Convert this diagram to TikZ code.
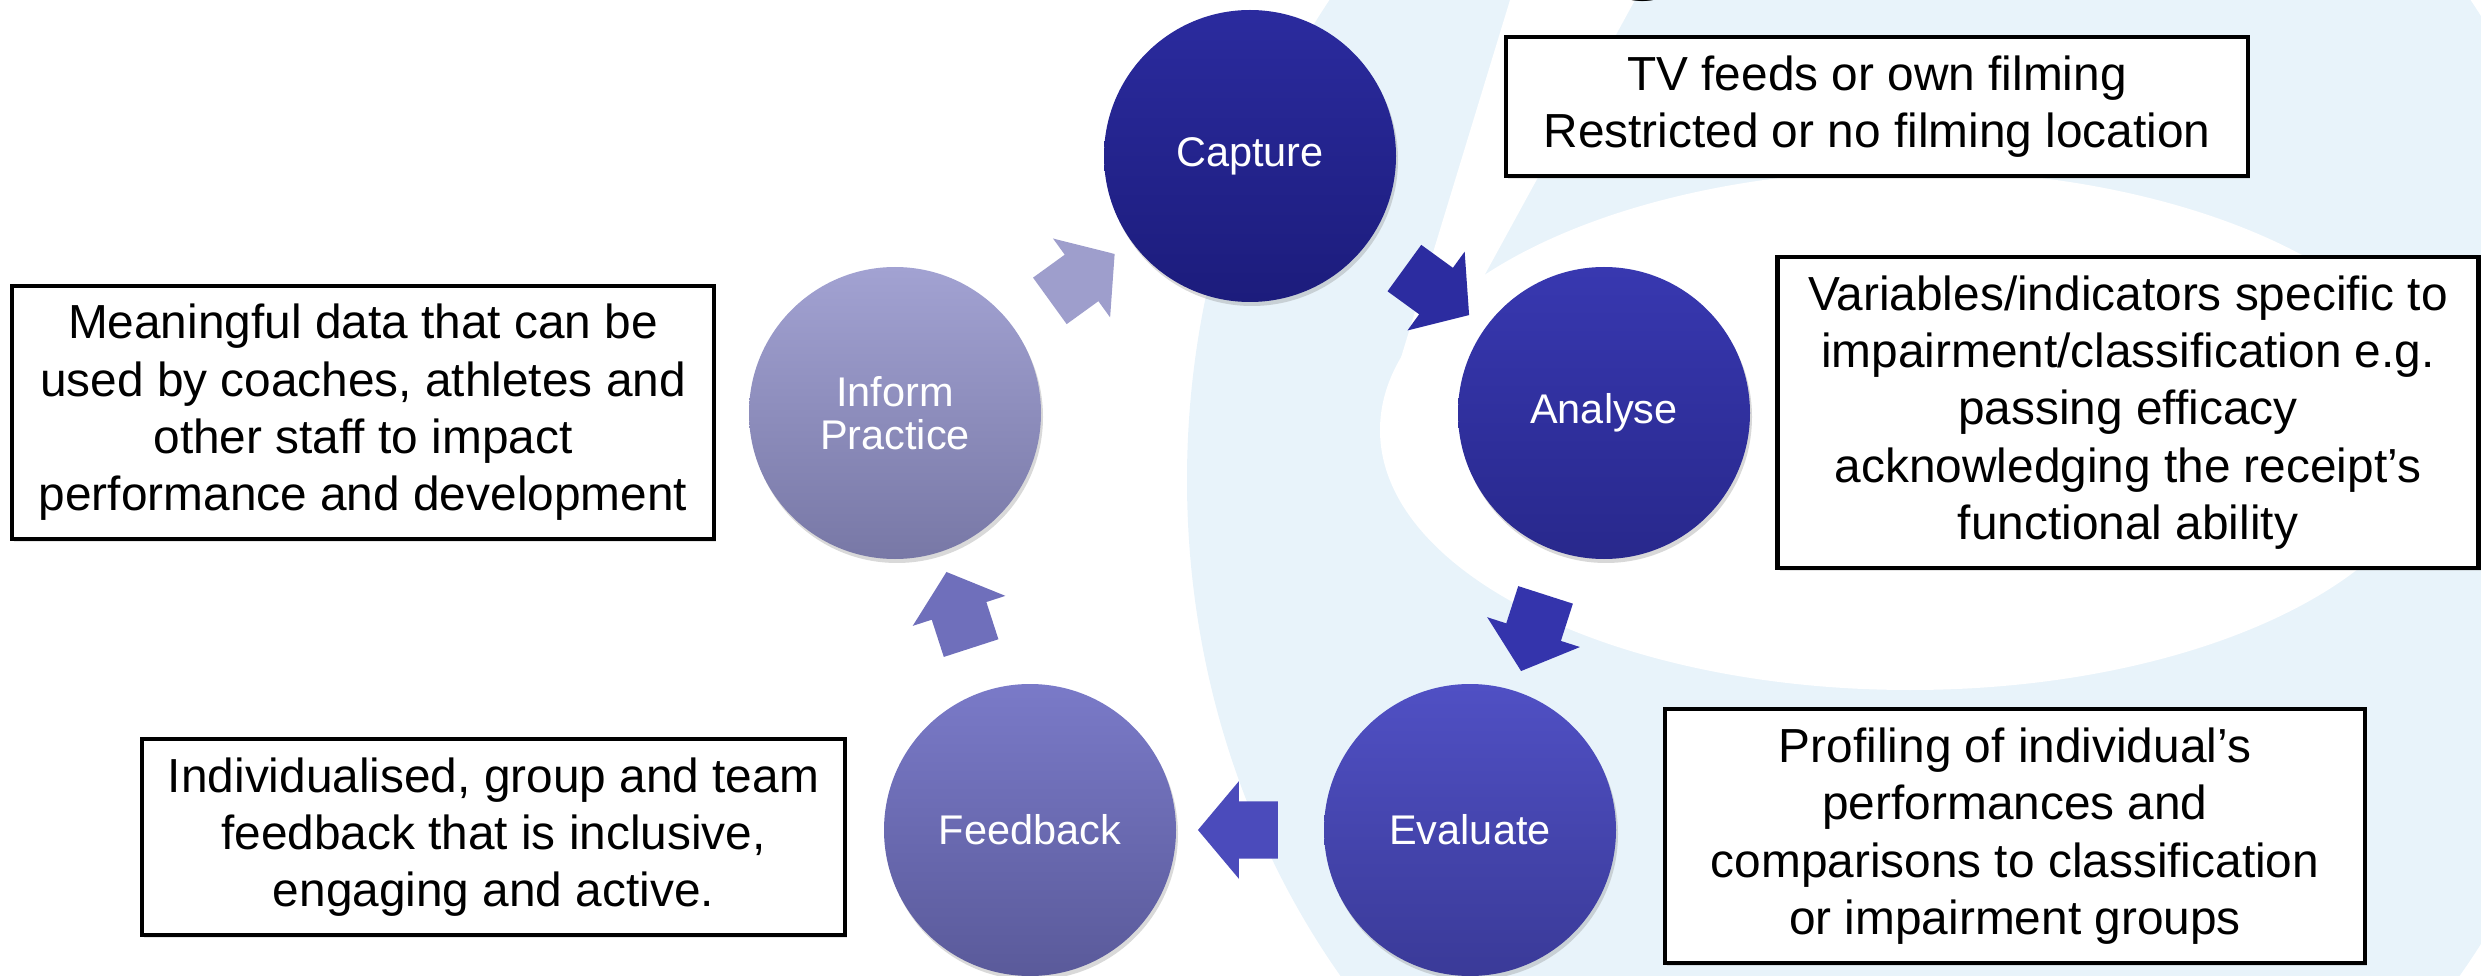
\documentclass[tikz,border=0pt]{standalone}
\usepackage{fontspec}
\setmainfont{Liberation Sans}
\usetikzlibrary{calc,shapes.arrows,shadows}

\definecolor{bgblue}{HTML}{E8F3FA}
\definecolor{capTop}{HTML}{2B2B9E}
\definecolor{capBot}{HTML}{1C1C7C}
\definecolor{anaTop}{HTML}{3838B0}
\definecolor{anaBot}{HTML}{28288C}
\definecolor{evaTop}{HTML}{5050C4}
\definecolor{evaBot}{HTML}{3A3A98}
\definecolor{feeTop}{HTML}{7A7AC8}
\definecolor{feeBot}{HTML}{5A5A9A}
\definecolor{infTop}{HTML}{A2A2D2}
\definecolor{infBot}{HTML}{7878A6}
\definecolor{arrA}{HTML}{2C2CA0}
\definecolor{arrB}{HTML}{3434AC}
\definecolor{arrC}{HTML}{4B4BBB}
\definecolor{arrD}{HTML}{6F6FBB}
\definecolor{arrE}{HTML}{9E9ECC}

\tikzset{
  stage/.style={circle, minimum size=2.92cm, inner sep=0pt, text=white, align=center,
    font=\fontsize{11.8}{12.3}\selectfont,
    drop shadow={shadow xshift=0.02cm, shadow yshift=-0.04cm, opacity=0.3}},
  note/.style={draw=black, line width=1.2pt, fill=white, inner sep=0pt, align=center,
    font=\fontsize{13.6}{16.3}\selectfont,
    drop shadow={shadow xshift=0.02cm, shadow yshift=-0.03cm, opacity=0.2}},
  cyclearrow/.style={single arrow, minimum height=0.8cm, inner xsep=0pt, inner ysep=0.28cm,
    single arrow head extend=0.2cm, single arrow tip angle=100}
}

% block arrow half way between two stages
\newcommand{\cyclestep}[3]{%
  \path let \p1 = ($(#2)-(#1)$), \n1 = {atan2(\y1,\x1)} in
    node[cyclearrow, fill=#3, rotate=\n1] (#1-#2) at ($(#1)!0.5!(#2)$) {};}

\begin{document}
\begin{tikzpicture}
\clip (0,0) rectangle (24.81,-9.76);

% background swoosh
\fill[bgblue] (19.0,-4.8) ellipse (7.13 and 8.0);
\fill[white] (19.1,-4.3) ellipse (5.3 and 2.6);
\fill[white] (15.1,0) -- (16.35,0) -- (14.6,-3.2) -- (13.85,-4.1) -- cycle;
\node[anchor=base, inner sep=0pt, font=\fontsize{44}{44}\selectfont] (headg) at (16.44,0.30) {g};

% the cycle
\node[stage, top color=capTop, bottom color=capBot] (cap) at (12.50,-1.56) {Capture};
\node[stage, top color=anaTop, bottom color=anaBot] (ana) at (16.04,-4.13) {Analyse};
\node[stage, top color=evaTop, bottom color=evaBot] (eva) at (14.70,-8.30) {Evaluate};
\node[stage, top color=feeTop, bottom color=feeBot] (fee) at (10.30,-8.30) {Feedback};
\node[stage, top color=infTop, bottom color=infBot] (inf) at (8.95,-4.13) {Inform\\Practice};

\cyclestep{cap}{ana}{arrA}
\cyclestep{ana}{eva}{arrB}
\cyclestep{eva}{fee}{arrC}
\cyclestep{fee}{inf}{arrD}
\cyclestep{inf}{cap}{arrE}

% notes
\node[note, minimum width=7.02cm, minimum height=2.53cm] (infnote) at (3.63,-4.125)
  {Meaningful data that can be\\used by coaches, athletes and\\other staff to impact\\performance and development};
\node[note, minimum width=7.03cm, minimum height=1.96cm] (feenote) at (4.935,-8.37)
  {Individualised, group and team\\feedback that is inclusive,\\engaging and active.};
\node[note, minimum width=7.42cm, minimum height=1.39cm] (capnote) at (18.77,-1.065)
  {TV feeds or own filming\\Restricted or no filming location};
\node[note, minimum width=7.01cm, minimum height=3.11cm] (ananote) at (21.28,-4.125)
  {Variables/indicators specific to\\impairment/classification e.g.\\passing efficacy\\acknowledging the receipt’s\\functional ability};
\node[note, minimum width=7.00cm, minimum height=2.54cm] (evanote) at (20.15,-8.36)
  {Profiling of individual’s\\performances and\\comparisons to classification\\or impairment groups};
\end{tikzpicture}
\end{document}
